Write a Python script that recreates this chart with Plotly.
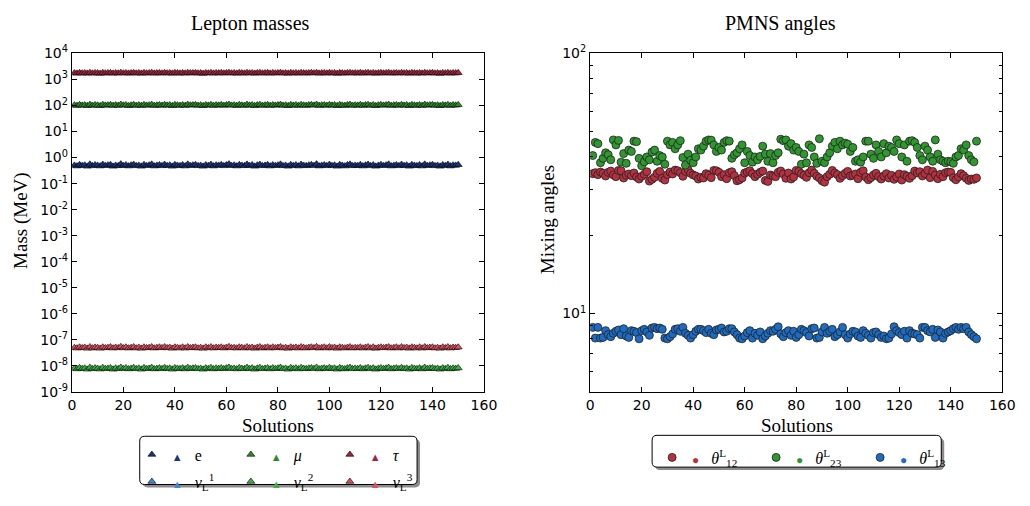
import plotly.graph_objects as go

W, H = 1030, 506

# ---------------- data ----------------
# Lepton masses (MeV) for charged leptons, neutrino masses in meV
m_e = [0.50,0.47,0.53,0.49,0.51,0.46,0.55,0.48,0.52,0.50,0.47,0.54,0.49,0.51,0.53,0.46,0.50,0.48,0.56,0.49,0.52,0.47,0.51,0.54,0.48,0.50,0.46,0.53,0.49,0.51,
       0.55,0.47,0.50,0.52,0.48,0.54,0.49,0.51,0.46,0.53,0.50,0.48,0.52,0.47,0.55,0.49,0.51,0.53,0.48,0.50,0.46,0.52,0.49,0.54,0.47,0.51,0.50,0.53,0.48,0.52,
       0.56,0.49,0.51,0.47,0.53,0.50,0.48,0.55,0.49,0.52,0.46,0.51,0.54,0.48,0.50,0.53,0.47,0.52,0.49,0.51,0.55,0.48,0.50,0.46,0.53,0.49,0.52,0.47,0.54,0.50,
       0.48,0.51,0.53,0.49,0.56,0.47,0.50,0.52,0.48,0.54,0.49,0.51,0.46,0.53,0.50,0.47,0.52,0.55,0.48,0.50,0.49,0.53,0.47,0.51,0.54,0.48,0.52,0.46,0.50,0.53,
       0.49,0.51,0.55,0.47,0.50,0.52,0.48,0.54,0.49,0.51,0.46,0.53,0.50,0.48,0.52,0.47,0.55,0.49,0.51,0.53,0.48,0.50,0.46,0.52,0.49,0.54,0.47,0.51,0.50,0.53]

m_mu = [103,99,106,101,104,98,108,100,105,102,97,107,101,103,106,99,104,100,109,102,105,98,103,107,100,104,99,106,101,103,
        108,99,102,105,100,107,101,104,98,106,103,100,105,99,108,102,104,106,100,103,98,105,101,107,99,104,102,106,100,105,
        109,101,103,99,106,102,100,108,101,105,98,104,107,100,103,106,99,105,101,104,108,100,103,98,106,101,105,99,107,102,
        100,104,106,101,109,99,103,105,100,107,101,104,98,106,102,99,105,108,100,103,101,106,99,104,107,100,105,98,103,106,
        101,104,108,99,103,105,100,107,101,104,98,106,102,100,105,99,108,101,104,106,100,103,98,105,101,107,99,104,102,106]

m_tau = [1760,1720,1790,1740,1770,1710,1810,1730,1780,1750,1700,1800,1740,1765,1795,1715,1770,1735,1820,1745,1785,1720,1760,1805,1730,1775,1710,1790,1740,1765,
         1815,1725,1755,1785,1735,1800,1745,1770,1710,1795,1760,1730,1780,1720,1810,1750,1770,1790,1735,1760,1705,1785,1745,1800,1725,1775,1755,1795,1730,1780,
         1825,1740,1765,1720,1790,1755,1730,1810,1745,1780,1710,1770,1800,1735,1760,1795,1720,1785,1745,1770,1815,1730,1760,1710,1790,1740,1780,1725,1805,1755,
         1735,1775,1795,1745,1820,1720,1760,1785,1730,1800,1745,1770,1705,1790,1755,1725,1780,1810,1735,1765,1745,1795,1720,1775,1805,1730,1785,1710,1760,1790,
         1740,1770,1815,1725,1760,1785,1735,1800,1745,1770,1710,1795,1755,1730,1780,1720,1810,1745,1770,1790,1735,1760,1705,1785,1745,1800,1725,1775,1755,1795]

nu1_meV = [0.05,0.03,0.07,0.04,0.06,0.02,0.08,0.03,0.06,0.05,0.04,0.07,0.03,0.05,0.06,0.02,0.05,0.04,0.08,0.04,0.06,0.03,0.05,0.07,0.03,0.06,0.02,0.07,0.04,0.05,
           0.07,0.03,0.05,0.06,0.04,0.07,0.04,0.05,0.02,0.06,0.05,0.03,0.06,0.03,0.07,0.04,0.05,0.06,0.03,0.05,0.02,0.06,0.04,0.07,0.03,0.05,0.05,0.06,0.03,0.06,
           0.08,0.04,0.05,0.03,0.06,0.05,0.03,0.07,0.04,0.06,0.02,0.05,0.07,0.03,0.05,0.06,0.03,0.06,0.04,0.05,0.07,0.03,0.05,0.02,0.06,0.04,0.06,0.03,0.07,0.05,
           0.03,0.05,0.06,0.04,0.08,0.03,0.05,0.06,0.03,0.07,0.04,0.05,0.02,0.06,0.05,0.03,0.06,0.07,0.03,0.05,0.04,0.06,0.03,0.05,0.07,0.03,0.06,0.02,0.05,0.06,
           0.04,0.05,0.07,0.03,0.05,0.06,0.03,0.07,0.04,0.05,0.02,0.06,0.05,0.03,0.06,0.03,0.07,0.04,0.05,0.06,0.03,0.05,0.02,0.06,0.04,0.07,0.03,0.05,0.05,0.06]

nu2_meV = [8.0,7.6,8.4,7.8,8.1,7.4,8.6,7.7,8.2,7.9,7.5,8.5,7.8,8.0,8.3,7.4,8.1,7.7,8.7,7.8,8.3,7.6,8.0,8.5,7.7,8.1,7.4,8.4,7.8,8.0,
           8.6,7.6,7.9,8.2,7.7,8.5,7.8,8.1,7.4,8.3,8.0,7.7,8.2,7.6,8.6,7.8,8.1,8.3,7.7,8.0,7.4,8.2,7.8,8.5,7.6,8.1,7.9,8.3,7.7,8.2,
           8.7,7.8,8.0,7.6,8.4,7.9,7.7,8.6,7.8,8.2,7.4,8.1,8.5,7.7,8.0,8.3,7.6,8.3,7.8,8.1,8.6,7.7,8.0,7.4,8.4,7.8,8.2,7.6,8.5,7.9,
           7.7,8.1,8.3,7.8,8.7,7.6,8.0,8.2,7.7,8.5,7.8,8.1,7.4,8.4,7.9,7.6,8.2,8.6,7.7,8.0,7.8,8.3,7.6,8.1,8.5,7.7,8.2,7.4,8.0,8.3,
           7.8,8.1,8.6,7.6,8.0,8.2,7.7,8.5,7.8,8.1,7.4,8.4,7.9,7.7,8.2,7.6,8.6,7.8,8.1,8.3,7.7,8.0,7.4,8.2,7.8,8.5,7.6,8.1,7.9,8.3]

nu3_meV = [50,48,52,49,51,47,53,48,51,50,47,52,49,50,53,48,51,49,54,49,52,48,50,53,48,51,47,52,49,50,
           53,48,50,52,49,53,49,51,47,52,50,48,52,48,53,49,51,52,48,50,47,52,49,53,48,51,50,52,48,51,
           54,49,50,48,52,50,48,53,49,51,47,51,53,48,50,52,48,52,49,51,53,48,50,47,52,49,51,48,53,50,
           48,51,52,49,54,48,50,52,48,53,49,51,47,52,50,48,51,53,48,50,49,52,48,51,53,48,52,47,50,52,
           49,51,53,48,50,52,48,53,49,51,47,52,50,48,52,48,53,49,51,52,48,50,47,52,49,53,48,51,50,52]

MEV_PER_MILLI_EV = 1e-9  # 1 meV = 1e-9 MeV

# PMNS mixing angles (degrees)
theta12 = [34.5,34.8,34.2,35.0,34.6,33.8,34.9,35.3,34.1,33.6,35.5,35.4,33.2,34.0,34.4,33.9,34.7,33.5,32.9,33.7,34.3,35.1,32.3,32.8,33.4,34.6,35.2,33.1,32.6,34.2,
           35.0,34.4,35.6,35.4,34.8,33.7,35.2,35.7,34.6,34.1,33.8,32.9,33.4,33.2,34.5,34.0,33.3,35.5,35.4,34.9,33.6,34.2,33.0,34.8,35.1,33.9,32.4,32.7,33.2,34.7,
           35.0,35.4,34.5,33.6,34.3,34.9,35.3,32.5,32.2,34.1,33.8,33.6,34.9,35.3,34.4,33.1,34.7,32.9,33.5,35.5,35.2,34.5,34.0,33.4,34.8,35.6,34.6,33.7,33.2,32.4,
           32.0,33.6,34.3,35.5,34.7,34.2,33.1,33.9,34.6,35.2,33.8,34.0,34.4,33.0,34.9,35.4,33.5,32.7,33.3,34.1,34.6,33.6,32.9,33.8,34.5,33.2,34.0,32.8,33.5,34.4,
           32.6,34.2,33.7,33.1,33.9,35.3,34.7,35.1,33.8,34.5,35.6,33.3,35.2,34.1,33.0,34.3,33.6,34.8,35.0,34.9,33.3,32.7,33.5,34.5,33.9,33.1,32.5,32.9,32.8,33.2]

theta23 = [40.5,45.5,45.0,38.0,39.5,41.5,40.8,39.0,46.5,44.5,46.3,38.2,41.2,37.8,42.5,42.0,46.0,45.8,39.5,37.0,38.3,40.0,39.0,41.8,42.5,38.5,40.5,40.0,37.5,46.0,
           44.5,45.5,43.0,44.5,46.2,39.8,37.2,41.0,38.8,38.0,40.0,43.0,42.5,44.0,46.0,46.5,46.4,44.5,42.0,43.5,42.5,45.5,46.2,46.0,39.5,40.8,41.5,43.0,44.5,38.0,
           42.0,40.5,38.2,40.0,39.0,40.2,44.0,41.0,38.5,41.2,38.0,40.5,41.5,46.8,46.2,46.5,44.0,45.0,42.5,43.5,42.0,37.5,41.0,38.0,44.5,43.5,40.0,37.8,47.0,38.5,
           38.0,40.0,41.5,44.0,45.5,43.0,46.0,44.5,45.2,44.8,42.0,43.5,38.5,39.0,38.2,40.0,46.0,46.0,41.0,39.5,44.5,42.0,40.0,45.0,41.5,44.0,43.5,42.0,46.5,45.0,
           40.0,44.5,38.5,46.0,46.2,45.5,43.5,40.5,39.0,44.0,42.5,40.0,38.5,46.5,41.0,39.0,38.5,38.0,38.5,38.3,37.8,40.0,40.5,43.0,42.5,44.5,40.5,39.0,38.3,46.0]

theta13 = [8.85,8.05,8.85,8.05,8.10,8.60,8.30,8.15,8.40,8.55,8.65,8.30,8.75,8.20,8.10,8.60,8.55,8.45,8.00,8.60,8.70,8.50,8.25,8.80,8.85,8.75,8.80,8.70,8.05,8.00,
           8.15,8.35,8.70,8.75,8.55,8.85,8.40,8.25,8.05,8.30,8.55,8.70,8.70,8.60,8.45,8.70,8.40,8.30,8.65,8.70,8.80,8.50,8.55,8.75,8.75,8.50,8.30,8.05,8.00,8.20,
           8.45,8.60,8.05,8.40,8.25,8.50,8.00,8.20,8.40,8.60,8.55,8.70,8.90,8.35,8.15,8.45,8.60,8.25,8.55,8.10,8.30,8.70,8.60,8.45,8.20,8.75,8.80,8.05,8.10,8.50,
           8.85,8.40,8.55,8.70,8.15,8.30,8.50,8.85,8.30,8.05,8.35,8.55,8.50,8.20,8.10,8.60,8.40,8.25,8.05,8.45,8.50,8.30,8.10,8.20,8.00,8.05,8.35,8.90,8.60,8.45,
           8.30,8.55,8.05,8.60,8.40,8.35,8.30,8.05,8.85,8.85,8.60,8.50,8.70,8.10,8.65,8.50,8.05,8.40,8.50,8.60,8.75,8.85,8.70,8.85,8.75,8.85,8.50,8.30,8.15,8.00]

x_ticks = [0, 20, 40, 60, 80, 100, 120, 140, 160]
mass_decades = list(range(-9, 5))
angle_major = [10, 100]
angle_minor = [6, 7, 8, 9, 20, 30, 40, 50, 60, 70, 80, 90]

# ---------------- styling ----------------
C_E, C_NU1 = "#1a3577", "#3d8ad6"
C_MU, C_NU2 = "#2a8a2a", "#3cb043"
C_TAU, C_NU3 = "#a3243a", "#d9505e"
C_T12, C_T23, C_T13 = "#b7303f", "#2e972e", "#1c6cc4"

SERIF = "Liberation Serif"
SANS = "DejaVu Sans"

def px2x(p):
    return p / W

def px2y(p):
    return 1 - p / H

fig = go.Figure()

def idx(vals):
    return list(range(1, len(vals) + 1))

def tri_label(color, text):
    return ("<span style='color:%s;font-size:11px'>\u25B2</span>   %s" % (color, text))

def dot_label(color, text):
    return ("<span style='color:%s;font-size:12px'>\u25CF</span>   %s" % (color, text))

mass_series = [
    (m_e, 1.0, C_E, "e", "legend"),
    (m_mu, 1.0, C_MU, "<i>μ</i>", "legend"),
    (m_tau, 1.0, C_TAU, "<i>τ</i>", "legend"),
    (nu1_meV, MEV_PER_MILLI_EV, C_NU1, "<i>ν</i><sub>L</sub><sup>1</sup>", "legend2"),
    (nu2_meV, MEV_PER_MILLI_EV, C_NU2, "<i>ν</i><sub>L</sub><sup>2</sup>", "legend2"),
    (nu3_meV, MEV_PER_MILLI_EV, C_NU3, "<i>ν</i><sub>L</sub><sup>3</sup>", "legend2"),
]
for vals, scale, col, name, leg in mass_series:
    fig.add_trace(go.Scatter(
        x=idx(vals), y=[v * scale for v in vals], mode="markers",
        name=tri_label(col, name), legend=leg,
        marker=dict(symbol="triangle-up", size=7, color=col,
                    line=dict(color="black", width=0.6)),
        xaxis="x", yaxis="y"))

angle_series = [
    (theta12, C_T12, "<i>θ</i><sup>L</sup><sub>12</sub>"),
    (theta23, C_T23, "<i>θ</i><sup>L</sup><sub>23</sub>"),
    (theta13, C_T13, "<i>θ</i><sup>L</sup><sub>13</sub>"),
]
for vals, col, name in angle_series:
    fig.add_trace(go.Scatter(
        x=idx(vals), y=vals, mode="markers",
        name=dot_label(col, name), legend="legend3",
        marker=dict(symbol="circle", size=8, color=col,
                    line=dict(color="#222222", width=0.8)),
        xaxis="x2", yaxis="y2"))

axis_common = dict(showline=True, linecolor="black", linewidth=1.2, mirror="ticks",
                   ticks="inside", ticklen=5, tickwidth=1, tickcolor="black",
                   showgrid=False, zeroline=False,
                   tickfont=dict(family=SANS, size=14, color="black"))

fig.update_layout(
    width=W, height=H, margin=dict(l=0, r=0, t=0, b=0),
    paper_bgcolor="white", plot_bgcolor="white",
    xaxis=dict(domain=[px2x(69), px2x(488)], range=[0, 160], tickvals=x_ticks,
               anchor="y", **axis_common),
    yaxis=dict(domain=[px2y(396), px2y(45)], type="log", range=[-9, 4],
               tickvals=[10.0 ** k for k in mass_decades],
               ticktext=["10<sup>%d</sup>" % k for k in mass_decades],
               anchor="x", **axis_common),
    xaxis2=dict(domain=[px2x(596), px2x(1015)], range=[0, 160], tickvals=x_ticks,
                anchor="y2", **axis_common),
    yaxis2=dict(domain=[px2y(396), px2y(45)], type="log", range=[0.69897, 2],
                tickvals=angle_major, ticktext=["10<sup>1</sup>", "10<sup>2</sup>"],
                minor=dict(tickvals=angle_minor, ticks="inside", ticklen=3,
                           tickcolor="black", showgrid=False),
                anchor="x2", **axis_common),
    showlegend=True,
)

leg_common = dict(orientation="h", xanchor="left", yanchor="middle",
                  bgcolor="rgba(0,0,0,0)", borderwidth=0,
                  entrywidthmode="pixels", itemsizing="trace",
                  font=dict(family=SERIF, size=16, color="black"))
fig.update_layout(
    legend=dict(x=px2x(130), y=px2y(461), entrywidth=54, **leg_common),
    legend2=dict(x=px2x(130), y=px2y(489), entrywidth=54, **leg_common),
    legend3=dict(x=px2x(659), y=px2y(464), entrywidth=59, **leg_common),
)

def rounded_rect(x0, y0, x1, y1, r):
    pts = []
    pts.append("M %f,%f" % (px2x(x0 + r), px2y(y0)))
    pts.append("L %f,%f" % (px2x(x1 - r), px2y(y0)))
    pts.append("Q %f,%f %f,%f" % (px2x(x1), px2y(y0), px2x(x1), px2y(y0 + r)))
    pts.append("L %f,%f" % (px2x(x1), px2y(y1 - r)))
    pts.append("Q %f,%f %f,%f" % (px2x(x1), px2y(y1), px2x(x1 - r), px2y(y1)))
    pts.append("L %f,%f" % (px2x(x0 + r), px2y(y1)))
    pts.append("Q %f,%f %f,%f" % (px2x(x0), px2y(y1), px2x(x0), px2y(y1 - r)))
    pts.append("L %f,%f" % (px2x(x0), px2y(y0 + r)))
    pts.append("Q %f,%f %f,%f" % (px2x(x0), px2y(y0), px2x(x0 + r), px2y(y0)))
    pts.append("Z")
    return " ".join(pts)

shapes = []
for (x0, y0, x1, y1) in [(138, 442, 420, 492), (659, 441, 953, 474)]:
    shapes.append(dict(type="path", xref="paper", yref="paper", layer="below",
                       path=rounded_rect(x0 + 3, y0 + 3, x1 + 3, y1 + 3, 5),
                       fillcolor="#8c8c8c", line=dict(width=0)))
    shapes.append(dict(type="path", xref="paper", yref="paper", layer="below",
                       path=rounded_rect(x0, y0, x1, y1, 5),
                       fillcolor="white", line=dict(color="black", width=1)))
fig.update_layout(shapes=shapes)

def ann(text, xp, yp, size, angle=0):
    return dict(text=text, x=px2x(xp), y=px2y(yp), xref="paper", yref="paper",
                showarrow=False, textangle=angle, xanchor="center", yanchor="middle",
                font=dict(family=SERIF, size=size, color="black"))

fig.update_layout(annotations=[
    ann("Lepton masses", 251, 14, 20),
    ann("PMNS angles", 790, 14, 20),
    ann("Solutions", 279, 431, 19),
    ann("Solutions", 806, 431, 19),
    ann("Mass (MeV)", 18, 218, 19, -90),
    ann("Mixing angles", 552, 217, 19, -90),
])

fig.write_html("out.html")
